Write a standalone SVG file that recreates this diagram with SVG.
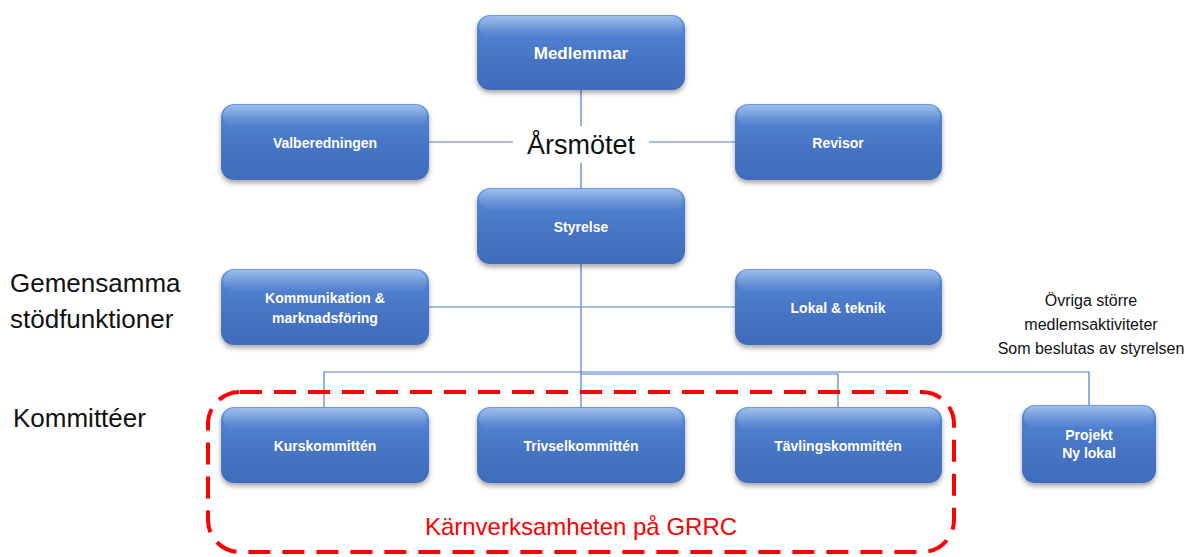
<svg xmlns="http://www.w3.org/2000/svg" width="1196" height="557" viewBox="0 0 1196 557">
<defs>
<linearGradient id="bg" x1="0" y1="0" x2="0" y2="1">
<stop offset="0" stop-color="#6B9BE3"/>
<stop offset="0.18" stop-color="#5283D2"/>
<stop offset="0.6" stop-color="#4673C4"/>
<stop offset="1" stop-color="#416CBC"/>
</linearGradient>
<linearGradient id="hl" x1="0" y1="0" x2="0" y2="1">
<stop offset="0" stop-color="#ffffff" stop-opacity="0.35"/>
<stop offset="1" stop-color="#ffffff" stop-opacity="0"/>
</linearGradient>
<filter id="sh" x="-10%" y="-10%" width="120%" height="130%">
<feDropShadow dx="0" dy="3" stdDeviation="2.5" flood-color="#000" flood-opacity="0.35"/>
</filter>
</defs>
<style>
.box{fill:url(#bg);filter:url(#sh)}
.hl{fill:url(#hl)}
.lbl{font-family:"Liberation Sans",Arial,sans-serif;font-weight:bold;font-size:14px;fill:#fff;text-anchor:middle}
.big{font-size:17px}
.conn{stroke:#4F7DCB;stroke-width:1.2;fill:none}
.side{font-family:"Liberation Sans",Arial,sans-serif;font-size:26px;fill:#111}
.note{font-family:"Liberation Sans",Arial,sans-serif;font-size:16px;fill:#111;text-anchor:middle}
</style>
<rect width="1196" height="557" fill="#fff"/>
<g id="connectors">
<path class="conn" d="M581 90V126M581 163V188M429 142H513M649 142H735M581 264V372M429 307H735M324 407V372H1089V405M581 372V407M581 374H838V407"/>
</g>
<g id="core-frame">
<rect x="208" y="392" width="746" height="160" rx="32" fill="none" stroke="#FF0000" stroke-width="4" stroke-dasharray="22,12"/>
<text x="581" y="535" font-family="'Liberation Sans',Arial,sans-serif" font-size="24" fill="#FF0000" text-anchor="middle">Kärnverksamheten på GRRC</text>
</g>
<g id="medlemmar"><rect class="box" x="477" y="15" width="208" height="75" rx="13"/><rect class="hl" x="479" y="16" width="204" height="22" rx="12"/><text class="lbl big" x="581" y="59">Medlemmar</text></g>
<g id="arsmotet"><text x="581" y="154" font-family="'Liberation Sans',Arial,sans-serif" font-size="27" fill="#111" text-anchor="middle">Årsmötet</text></g>
<g id="valberedningen"><rect class="box" x="221" y="104" width="208" height="76" rx="13"/><rect class="hl" x="223" y="105" width="204" height="22" rx="12"/><text class="lbl" x="325" y="148">Valberedningen</text></g>
<g id="revisor"><rect class="box" x="735" y="104" width="207" height="76" rx="13"/><rect class="hl" x="737" y="105" width="203" height="22" rx="12"/><text class="lbl" x="838" y="148">Revisor</text></g>
<g id="styrelse"><rect class="box" x="477" y="188" width="208" height="76" rx="13"/><rect class="hl" x="479" y="189" width="204" height="22" rx="12"/><text class="lbl" x="581" y="232">Styrelse</text></g>
<g id="kommunikation"><rect class="box" x="221" y="269" width="208" height="76" rx="13"/><rect class="hl" x="223" y="270" width="204" height="22" rx="12"/><text class="lbl" x="325" y="303">Kommunikation &amp;</text><text class="lbl" x="325" y="323">marknadsföring</text></g>
<g id="lokal-teknik"><rect class="box" x="735" y="269" width="207" height="76" rx="13"/><rect class="hl" x="737" y="270" width="203" height="22" rx="12"/><text class="lbl" x="838" y="313">Lokal &amp; teknik</text></g>
<g id="kurskommitten"><rect class="box" x="221" y="407" width="208" height="76" rx="13"/><rect class="hl" x="223" y="408" width="204" height="22" rx="12"/><text class="lbl" x="325" y="451">Kurskommittén</text></g>
<g id="trivselkommitten"><rect class="box" x="477" y="407" width="208" height="76" rx="13"/><rect class="hl" x="479" y="408" width="204" height="22" rx="12"/><text class="lbl" x="581" y="451">Trivselkommittén</text></g>
<g id="tavlingskommitten"><rect class="box" x="735" y="407" width="207" height="76" rx="13"/><rect class="hl" x="737" y="408" width="203" height="22" rx="12"/><text class="lbl" x="838" y="451">Tävlingskommittén</text></g>
<g id="projekt"><rect class="box" x="1022" y="405" width="134" height="78" rx="13"/><rect class="hl" x="1024" y="406" width="130" height="22" rx="12"/><text class="lbl" x="1089" y="440">Projekt</text><text class="lbl" x="1089" y="458">Ny lokal</text></g>
<g id="labels">
<text class="side" x="10" y="292">Gemensamma</text>
<text class="side" x="10" y="328">stödfunktioner</text>
<text class="side" x="13" y="427" font-size="27">Kommittéer</text>
<text class="note" x="1091" y="306">Övriga större</text>
<text class="note" x="1091" y="330">medlemsaktiviteter</text>
<text class="note" x="1091" y="354">Som beslutas av styrelsen</text>
</g>
</svg>
